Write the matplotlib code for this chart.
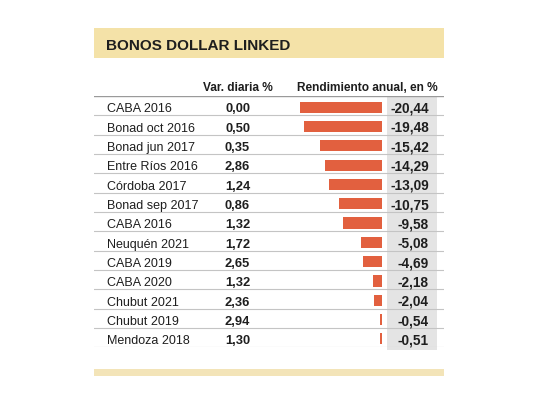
import matplotlib
matplotlib.use("Agg")
import matplotlib.pyplot as plt
from matplotlib.patches import Rectangle

# ---------------------------------------------------------------
# Datos
# ---------------------------------------------------------------
bonos = ['CABA 2016', 'Bonad oct 2016', 'Bonad jun 2017', 'Entre Ríos 2016',
         'Córdoba 2017', 'Bonad sep 2017', 'CABA 2016', 'Neuquén 2021',
         'CABA 2019', 'CABA 2020', 'Chubut 2021', 'Chubut 2019', 'Mendoza 2018']
var_diaria = [0.00, 0.50, 0.35, 2.86, 1.24, 0.86, 1.32, 1.72, 2.65, 1.32, 2.36, 2.94, 1.30]
rendimiento = [-20.44, -19.48, -15.42, -14.29, -13.09, -10.75, -9.58,
               -5.08, -4.69, -2.18, -2.04, -0.54, -0.51]

titulo = 'BONOS DOLLAR LINKED'
col_var = 'Var. diaria %'
col_rend = 'Rendimiento anual, en %'

plt.rcParams['font.family'] = ['Liberation Sans', 'DejaVu Sans']

W, H = 540, 405
def fx(x):
    return x / W
def fy(y):
    return 1 - y / H

texto = '#1e1e1e'
barra = '#e2603f'
gris_col = '#e4e4e4'

fig = plt.figure(figsize=(5.4, 4.05), dpi=100)
fig.patch.set_facecolor('white')

# banda del titulo
fig.add_artist(Rectangle((fx(94), fy(57.5)), (444 - 94) / W, 29 / H,
                         transform=fig.transFigure, color='#f4e2a8', lw=0))
fig.text(fx(106), fy(49.5), titulo, fontsize=11, fontweight='bold',
         color=texto, va='baseline', ha='left')

# banda inferior
fig.add_artist(Rectangle((fx(94), fy(376)), (444 - 94) / W, 7 / H,
                         transform=fig.transFigure, color='#f3e4b8', lw=0))

n = len(bonos)
top, bottom = 96, 347.3
base = 0.35  # desplazamiento de la linea base dentro de la fila

# tabla
ax = fig.add_axes([fx(94), fy(bottom), (444 - 94) / W, (bottom - top) / H])
ax.set_xlim(94, 444)
ax.set_ylim(n - 0.5, -0.5)
ax.axis('off')

ax.axvspan(387, 437, ymin=-0.012, ymax=1, color=gris_col, lw=0, clip_on=False)
for i in range(n):
    ax.plot([94, 444], [i + 0.5, i + 0.5], color='#c4c4c4', lw=0.8)
ax.plot([94, 444], [-0.5, -0.5], color='#9a9a9a', lw=1.0)

ax.text(238, -0.77, col_var, ha='center', va='baseline', fontsize=8.6,
        fontweight='bold', color=texto)
ax.text(438, -0.77, col_rend, ha='right', va='baseline', fontsize=8.6,
        fontweight='bold', color=texto)

for i, (b, v, r) in enumerate(zip(bonos, var_diaria, rendimiento)):
    ax.text(107, i + base, b, ha='left', va='baseline', fontsize=9, color=texto)
    ax.text(250, i + base, f'{v:.2f}'.replace('.', ','), ha='right',
            va='baseline', fontsize=9.3, fontweight='bold', color=texto)
    ax.text(429, i + base, f'{r:.2f}'.replace('.', ','), ha='right',
            va='baseline', fontsize=9.8, fontweight='bold', color=texto)

# barras de rendimiento
escala = 4.0  # px por punto
x_der = 381.7
x_min = -22
axb = fig.add_axes([fx(x_der + x_min * escala), fy(bottom),
                    -x_min * escala / W, (bottom - top) / H])
axb.set_xlim(x_min, 0)
axb.set_ylim(n - 0.5 - 0.07, -0.5 - 0.07)
axb.barh(range(n), rendimiento, height=0.57, color=barra)
axb.axis('off')
axb.patch.set_alpha(0)

fig.savefig('out.png', dpi=100)
